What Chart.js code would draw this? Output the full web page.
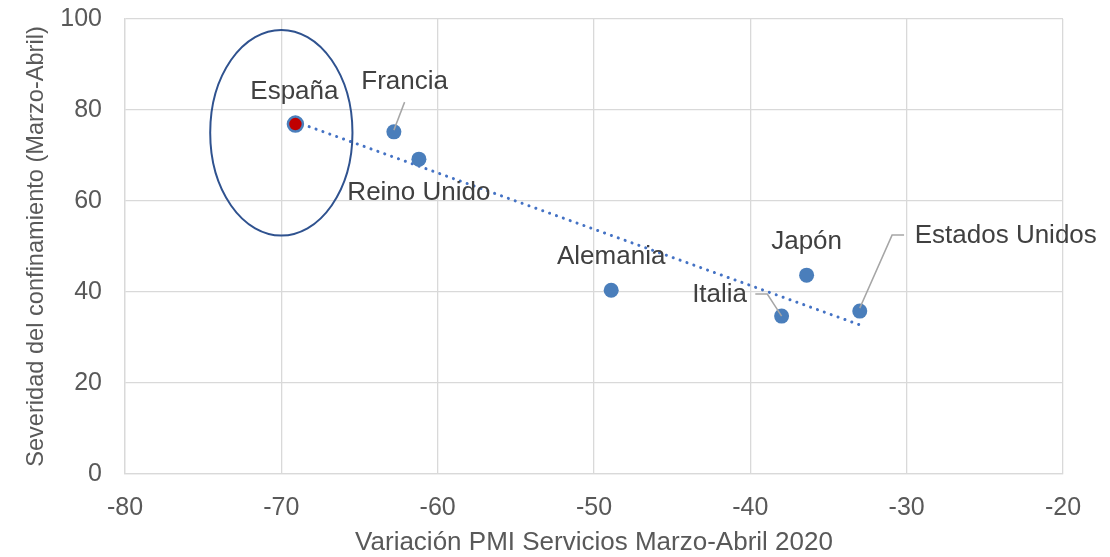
<!DOCTYPE html>
<html><head><meta charset="utf-8">
<script src="https://cdn.jsdelivr.net/npm/chart.js@4"></script>
<style>html,body{margin:0;padding:0;background:#fff}#wrap{width:1110px;height:557px;position:relative}</style>
</head><body><div id="wrap"><canvas id="c"></canvas></div>
<script>
const countries = ['España','Francia','Reino Unido','Alemania','Japón','Italia','Estados Unidos'];
const pmiChange = [-69.1,-62.8,-61.2,-48.9,-36.4,-38.0,-33.0];
const lockdown  = [76.9,75.2,69.2,40.4,43.7,34.7,35.8];
const xTicks = [-80,-70,-60,-50,-40,-30,-20];
const yTicks = [0,20,40,60,80,100];
const xTitle = 'Variación PMI Servicios Marzo-Abril 2020';
const yTitle = 'Severidad del confinamiento (Marzo-Abril)';
const highlightIndex = 0;

// least-squares trend line from the data
const n = pmiChange.length;
const mx = pmiChange.reduce((a,b)=>a+b,0)/n;
const my = lockdown.reduce((a,b)=>a+b,0)/n;
let sxy=0,sxx=0;
for(let i=0;i<n;i++){sxy+=(pmiChange[i]-mx)*(lockdown[i]-my);sxx+=(pmiChange[i]-mx)**2;}
const slope=sxy/sxx, icpt=my-slope*mx;
const xmin=Math.min(...pmiChange), xmax=Math.max(...pmiChange);
const trend=[{x:xmin,y:icpt+slope*xmin},{x:xmax,y:icpt+slope*xmax}];

// label placement (pixel offsets from each point) and leader lines
const labelOffsets = [[-1,-32],[10.7,-49.7],[0,34],[0,-33],[0,-33],[-62,-21],[146,-75]];
const leaders = {1:[[10.7,-29.7],[0,-1.7]], 5:[[-26.3,-22],[-14.3,-22],[0,0]], 6:[[44.3,-76],[32.3,-76],[0,-3]]};
const ellipse = {cx:-70.0, cy:75.0, rx:4.55, ry:22.6};

const fontFam = '"Liberation Sans", Arial, sans-serif';
const overlay = {
  id:'overlay',
  afterDatasetsDraw(chart){
    const ctx=chart.ctx, xs=chart.scales.x, ys=chart.scales.y;
    ctx.save();
    const ex=xs.getPixelForValue(ellipse.cx), ey=ys.getPixelForValue(ellipse.cy);
    const erx=Math.abs(xs.getPixelForValue(ellipse.cx+ellipse.rx)-ex);
    const ery=Math.abs(ys.getPixelForValue(ellipse.cy+ellipse.ry)-ey);
    ctx.beginPath();ctx.ellipse(ex,ey,erx,ery,0,0,Math.PI*2);
    ctx.strokeStyle='#2f528f';ctx.lineWidth=2;ctx.stroke();
    ctx.strokeStyle='#a6a6a6';ctx.lineWidth=1.5;
    for(const k in leaders){
      const px=xs.getPixelForValue(pmiChange[k]), py=ys.getPixelForValue(lockdown[k]);
      ctx.beginPath();
      leaders[k].forEach((p,j)=>{ if(j===0)ctx.moveTo(px+p[0],py+p[1]); else ctx.lineTo(px+p[0],py+p[1]); });
      ctx.stroke();
    }
    ctx.fillStyle='#404040';ctx.font='26px '+fontFam;ctx.textAlign='center';ctx.textBaseline='middle';
    countries.forEach((c,i)=>{
      const px=xs.getPixelForValue(pmiChange[i]), py=ys.getPixelForValue(lockdown[i]);
      ctx.fillText(c,px+labelOffsets[i][0],py+labelOffsets[i][1]);
    });
    ctx.restore();
  }
};

new Chart(document.getElementById('c'),{
  type:'scatter',
  data:{datasets:[
    {label:'Países',data:pmiChange.map((x,i)=>({x,y:lockdown[i]})),
     pointRadius:7.5,pointHoverRadius:7.5,
     pointBackgroundColor:pmiChange.map((_,i)=>i===highlightIndex?'#c00000':'#4a7ebb'),
     pointBorderColor:'#4a7ebb',pointBorderWidth:pmiChange.map((_,i)=>i===highlightIndex?2.5:0)},
    {type:'line',label:'Tendencia',data:trend,showLine:true,pointRadius:0,borderColor:'#4472c4',
     borderWidth:3,borderDash:[0.1,7.2],borderCapStyle:'round',fill:false}
  ]},
  options:{
    responsive:true,maintainAspectRatio:false,animation:false,
    layout:{padding:{left:0,right:47,top:19,bottom:0}},
    plugins:{legend:{display:false},tooltip:{enabled:false}},
    scales:{
      x:{type:'linear',min:-80,max:-20,
        afterBuildTicks(s){s.ticks=xTicks.map(v=>({value:v}));},
        afterFit(s){s.height=83;s.paddingLeft=0;s.paddingRight=0;},
        grid:{color:'#d9d9d9',lineWidth:1.3,drawTicks:false},
        border:{color:'#d9d9d9',width:1.3},
        ticks:{padding:19,color:'#595959',font:{family:fontFam,size:25},maxRotation:0},
        title:{display:true,text:xTitle,color:'#595959',font:{family:fontFam,size:26},padding:{top:0,bottom:-1.5}}
      },
      y:{type:'linear',min:0,max:100,
        afterBuildTicks(s){s.ticks=yTicks.map(v=>({value:v}));},
        afterFit(s){s.width=125;s.paddingTop=0;s.paddingBottom=0;},
        grid:{color:'#d9d9d9',lineWidth:1.3,drawTicks:false},
        border:{color:'#d9d9d9',width:1.3},
        ticks:{padding:23,color:'#595959',font:{family:fontFam,size:25}},
        title:{display:true,text:yTitle,color:'#595959',font:{family:fontFam,size:23.6},padding:{top:22.6,bottom:0}}
      }
    }
  },
  plugins:[overlay]
});
</script></body></html>
